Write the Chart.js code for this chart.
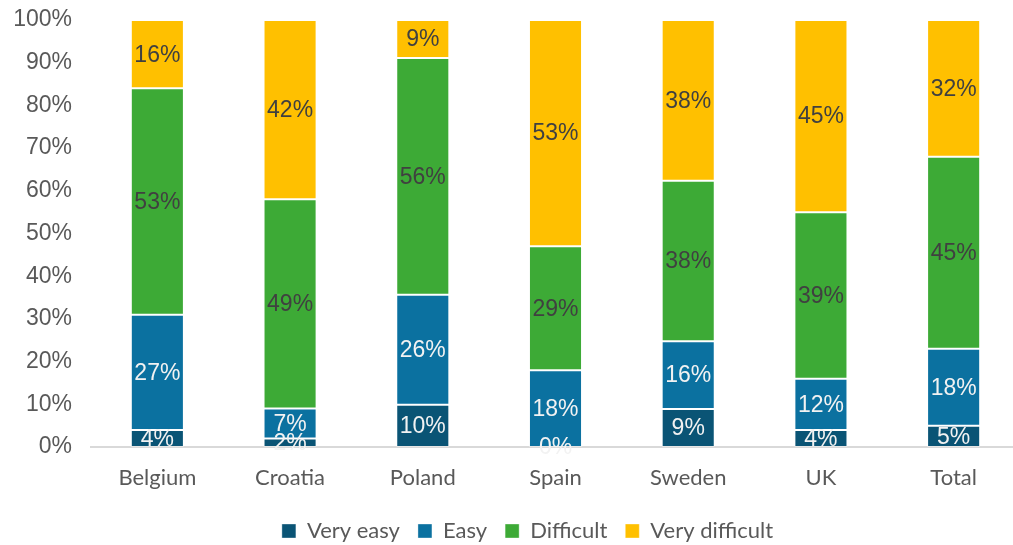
<!DOCTYPE html>
<html>
<head>
<meta charset="utf-8">
<script src="https://cdn.jsdelivr.net/npm/chart.js@4/dist/chart.umd.min.js"></script>
<style>
  html, body { margin: 0; padding: 0; background: #fff; overflow: hidden; }
  #wrap { position: relative; width: 1055px; height: 545px; }
</style>
</head>
<body>
<div id="wrap"><canvas id="chartBar"></canvas></div>
<script>
// Categorías y series (porcentajes tal como aparecen en las etiquetas)
const paises = ['Belgium', 'Croatia', 'Poland', 'Spain', 'Sweden', 'UK', 'Total'];
const muyFacil = [4, 2, 10, 0, 9, 4, 5];
const facil = [27, 7, 26, 18, 16, 12, 18];
const dificil = [53, 49, 56, 29, 38, 39, 45];
const muyDificil = [16, 42, 9, 53, 38, 45, 32];
const ticksY = [0, 10, 20, 30, 40, 50, 60, 70, 80, 90, 100];

const series = [
    { label: 'Very easy', valores: muyFacil, color: '#0A5475', texto: '#F2F2F2' },
    { label: 'Easy', valores: facil, color: '#0B71A0', texto: '#F2F2F2' },
    { label: 'Difficult', valores: dificil, color: '#3DAA36', texto: '#404040' },
    { label: 'Very difficult', valores: muyDificil, color: '#FFC000', texto: '#404040' }
];

// Apilado al 100%: cada columna se normaliza por su suma
const totales = paises.map((_, i) => series.reduce((s, d) => s + d.valores[i], 0));

// Etiquetas de valor centradas en cada segmento
const etiquetasPlugin = {
    id: 'etiquetas',
    afterDatasetsDraw(chart) {
        const ctx = chart.ctx;
        ctx.save();
        ctx.font = '23px "Liberation Sans", Arial, sans-serif';
        ctx.textAlign = 'center';
        ctx.textBaseline = 'middle';
        chart.data.datasets.forEach((ds, di) => {
            const meta = chart.getDatasetMeta(di);
            meta.data.forEach((bar, i) => {
                const y = (bar.y + bar.base) / 2;
                ctx.fillStyle = series[di].texto;
                ctx.fillText(series[di].valores[i] + '%', bar.x, y + 1);
            });
        });
        ctx.restore();
    }
};

// Centra la leyenda sobre todo el ancho del lienzo
const leyendaCentrada = {
    id: 'leyendaCentrada',
    afterLayout(chart) {
        const lg = chart.legend;
        const dx = (chart.width - (lg.left + lg.right)) / 2;
        lg.left += dx;
        lg.right += dx;
    }
};

const ctx = document.getElementById('chartBar').getContext('2d');
const barChart = new Chart(ctx, {
    type: 'bar',
    data: {
        labels: paises,
        datasets: series.map(s => ({
            label: s.label,
            data: s.valores.map((v, i) => v / totales[i] * 100),
            backgroundColor: s.color,
            borderColor: 'rgba(255,255,255,0.35)',
            borderWidth: 1,
            borderSkipped: false,
            categoryPercentage: 1,
            barPercentage: 0.4
        }))
    },
    options: {
        responsive: true,
        maintainAspectRatio: false,
        animation: false,
        layout: { padding: { left: 0, right: 35, top: 20, bottom: -7 } },
        plugins: {
            tooltip: { enabled: false },
            legend: {
                position: 'bottom',
                labels: {
                    color: '#595959',
                    font: { family: 'Lato, "Open Sans", sans-serif', size: 22 },
                    boxWidth: 14,
                    boxHeight: 14,
                    padding: 18
                }
            }
        },
        scales: {
            x: {
                stacked: true,
                grid: { display: false, drawTicks: false },
                border: { display: true, color: '#D9D9D9', width: 2 },
                ticks: {
                    color: '#595959',
                    font: { family: 'Lato, "Open Sans", sans-serif', size: 22 },
                    padding: 18
                },
                afterFit(scale) { scale.height = 55; }
            },
            y: {
                stacked: true,
                min: 0,
                max: 100,
                grid: { display: false, drawTicks: false },
                border: { display: false },
                afterBuildTicks(scale) { scale.ticks = ticksY.map(v => ({ value: v })); },
                ticks: {
                    color: '#595959',
                    font: { family: '"Liberation Sans", Arial, sans-serif', size: 23 },
                    padding: 19,
                    callback: v => v + '%'
                },
                afterFit(scale) {
                    scale.width = 91;
                    scale.paddingTop = 0;
                    scale.paddingBottom = 0;
                }
            }
        }
    },
    plugins: [etiquetasPlugin, leyendaCentrada]
});
</script>
</body>
</html>
